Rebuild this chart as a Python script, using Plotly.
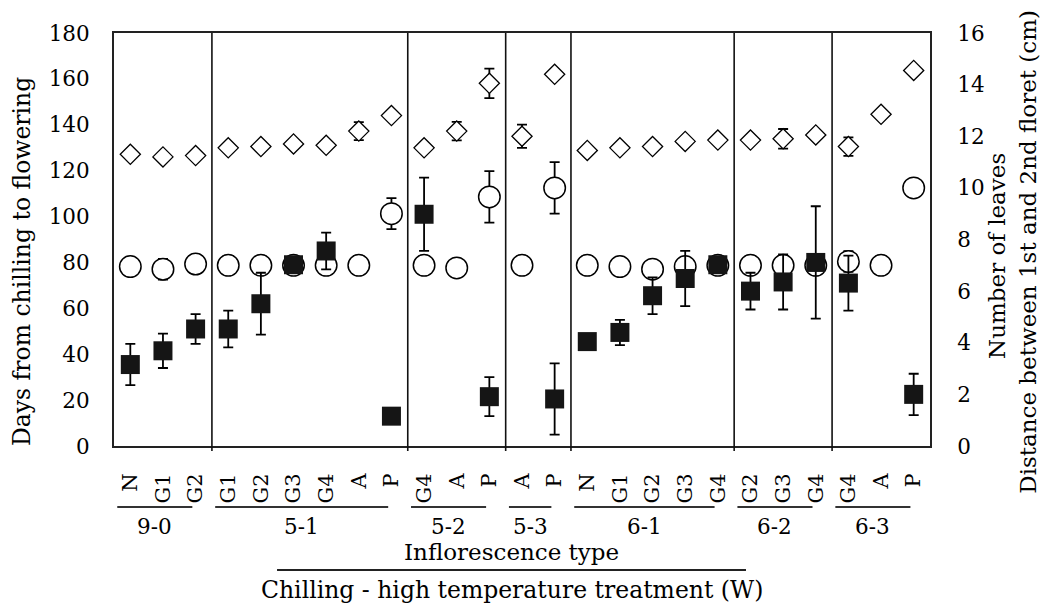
import plotly.graph_objects as go

# ---------------- data ----------------
categories = ["N", "G1", "G2",
              "G1", "G2", "G3", "G4", "A", "P",
              "G4", "A", "P",
              "A", "P",
              "N", "G1", "G2", "G3", "G4",
              "G2", "G3", "G4",
              "G4", "A", "P"]
groups = ["9-0", "5-1", "5-2", "5-3", "6-1", "6-2", "6-3"]
group_sizes = [3, 6, 3, 2, 5, 3, 3]

# Days from chilling to flowering (filled squares, left axis)
days = [35.5, 41.5, 51, 51, 62, 79, 85, None, 13,
        101, None, 21.5, None, 20.5,
        45.5, 49.5, 65.5, 73, 79, 67.5, 71.5, 80, 71, None, 22.5]
days_err = [9, 7.5, 6.5, 8, 13.5, 2, 8, 0, 1.5,
            16, 0, 8.5, 0, 15.5,
            0, 5.5, 8, 12, 1.5, 8, 12, 24.5, 12, 0, 9]

# Number of leaves (open circles, right axis)
leaves = [6.95, 6.85, 7.05, 7.0, 7.0, 7.0, 7.0, 7.0, 9.0,
          7.0, 6.9, 9.65, 7.0, 10.0,
          7.0, 6.95, 6.85, 6.95, 7.0, 7.0, 7.0, 7.0, 7.15, 7.0, 10.0]
leaves_err = [0, 0.4, 0, 0, 0, 0, 0, 0, 0.6,
              0, 0, 1.0, 0, 1.0,
              0, 0, 0, 0, 0, 0, 0, 0, 0.4, 0, 0]

# Distance between 1st and 2nd floret (open diamonds, right axis)
distance = [11.3, 11.2, 11.25, 11.55, 11.6, 11.7, 11.65, 12.2, 12.8,
            11.55, 12.2, 14.05, 12.0, 14.4,
            11.45, 11.55, 11.6, 11.8, 11.85, 11.85, 11.9, 12.05, 11.6, 12.85, 14.55]
distance_err = [0, 0, 0, 0, 0, 0, 0, 0.35, 0,
                0, 0.36, 0.57, 0.45, 0,
                0, 0, 0, 0, 0, 0, 0.38, 0, 0.36, 0, 0]

left_ticks = [0, 20, 40, 60, 80, 100, 120, 140, 160, 180]
right_ticks = [0, 2, 4, 6, 8, 10, 12, 14, 16]

# ---------------- figure ----------------
FONT = "DejaVu Serif"
x = list(range(len(categories)))

fig = go.Figure()

fig.add_trace(go.Scatter(
    x=x, y=distance, yaxis="y", mode="markers", showlegend=False,
    marker=dict(symbol="diamond", size=15.5, color="white",
                line=dict(color="black", width=1.3)),
    error_y=dict(type="data", array=distance_err, color="black",
                 thickness=1.8, width=5, visible=True),
))
fig.add_trace(go.Scatter(
    x=x, y=leaves, yaxis="y", mode="markers", showlegend=False,
    marker=dict(symbol="circle", size=21.5, color="white",
                line=dict(color="black", width=1.5)),
    error_y=dict(type="data", array=leaves_err, color="black",
                 thickness=1.8, width=5, visible=True),
))
fig.add_trace(go.Scatter(
    x=x, y=days, yaxis="y2", mode="markers", showlegend=False,
    marker=dict(symbol="square", size=19, color="#151515",
                line=dict(width=0)),
    error_y=dict(type="data", array=days_err, color="black",
                 thickness=1.8, width=5, visible=True),
))

# vertical dividers between treatment groups, group underlines & labels
shapes = []
annotations = []
start = 0
for i, (g, n) in enumerate(zip(groups, group_sizes)):
    end = start + n - 1
    if i > 0:
        shapes.append(dict(type="line", xref="x", yref="paper",
                           x0=start - 0.5, x1=start - 0.5, y0=-0.012, y1=1,
                           line=dict(color="#111", width=1.6)))
    x0 = start - 0.4
    x1 = end - 0.1
    shapes.append(dict(type="line", xref="x", yref="paper",
                       x0=x0, x1=x1, y0=-0.148, y1=-0.148,
                       line=dict(color="#333", width=2)))
    annotations.append(dict(text=g, xref="x", yref="paper",
                            x=(x0 + x1) / 2, y=-0.195, showarrow=False,
                            xanchor="center", yanchor="middle",
                            font=dict(family=FONT, size=21.5, color="black")))
    start += n

# bottom titles
annotations.append(dict(text="Inflorescence type", xref="paper", yref="paper",
                        x=0.4877, y=-0.256, showarrow=False,
                        xanchor="center", yanchor="middle",
                        font=dict(family=FONT, size=23, color="black")))
shapes.append(dict(type="line", xref="paper", yref="paper",
                   x0=0.1998, x1=0.7745, y0=-0.300, y1=-0.300,
                   line=dict(color="#222", width=2)))
annotations.append(dict(text="Chilling - high temperature treatment (W)",
                        xref="paper", yref="paper",
                        x=0.4877, y=-0.349, showarrow=False,
                        xanchor="center", yanchor="middle",
                        font=dict(family=FONT, size=23.5, color="black")))

# axis titles
annotations.append(dict(text="Days from chilling to flowering",
                        xref="paper", yref="paper", x=-0.1127, y=0.4455,
                        textangle=-90, showarrow=False,
                        xanchor="center", yanchor="middle",
                        font=dict(family=FONT, size=23.5, color="black")))
annotations.append(dict(text="Number of leaves",
                        xref="paper", yref="paper", x=1.082, y=0.46,
                        textangle=-90, showarrow=False,
                        xanchor="center", yanchor="middle",
                        font=dict(family=FONT, size=23, color="black")))
annotations.append(dict(text="Distance between 1st and 2nd floret (cm)",
                        xref="paper", yref="paper", x=1.120, y=0.47,
                        textangle=-90, showarrow=False,
                        xanchor="center", yanchor="middle",
                        font=dict(family=FONT, size=23, color="black")))

fig.update_layout(
    width=1041, height=605,
    margin=dict(l=114, r=111, t=33, b=159),
    paper_bgcolor="white", plot_bgcolor="white",
    font=dict(family=FONT, color="black"),
    xaxis=dict(range=[-0.5, len(categories) - 0.5], tickmode="array",
               tickvals=x, ticktext=categories, tickangle=-90,
               ticks="", showgrid=False, zeroline=False,
               showline=True, mirror=True, linecolor="#222", linewidth=2,
               tickfont=dict(family=FONT, size=21, color="black"),
               ticklabelstandoff=17),
    yaxis=dict(range=[0, 16], side="right", tickmode="array",
               tickvals=right_ticks, ticks="", showgrid=False,
               zeroline=False, showline=True, linecolor="#222", linewidth=2,
               tickfont=dict(family=FONT, size=21.5, color="black"),
               ticklabelstandoff=21),
    yaxis2=dict(range=[0, 180], side="left", overlaying="y",
                tickmode="array", tickvals=left_ticks, ticks="",
                showgrid=False, zeroline=False, showline=True,
                linecolor="#222", linewidth=2,
                tickfont=dict(family=FONT, size=21.5, color="black"),
                ticklabelstandoff=18),
    shapes=shapes,
    annotations=annotations,
)

fig.write_html("out.html",
               config={"displayModeBar": False},
               post_script="document.body.style.margin='0';"
                           "document.body.style.overflow='hidden';")
